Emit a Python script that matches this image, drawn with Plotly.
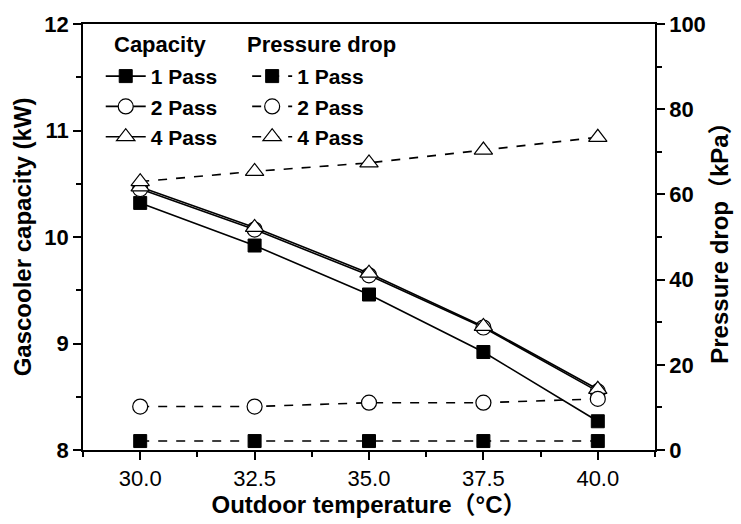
import plotly.graph_objects as go

temps = [30.0, 32.5, 35.0, 37.5, 40.0]
cap_1pass = [10.32, 9.92, 9.46, 8.92, 8.27]
cap_2pass = [10.45, 10.07, 9.64, 9.15, 8.55]
cap_4pass = [10.47, 10.09, 9.66, 9.16, 8.57]
dp_1pass = [2.1, 2.1, 2.1, 2.1, 2.1]
dp_2pass = [10.2, 10.2, 11.1, 11.1, 12.0]
dp_4pass = [63.0, 65.4, 67.4, 70.4, 73.4]
labels = ["1 Pass", "2 Pass", "4 Pass"]
legend_headers = ["Capacity", "Pressure drop"]

FONT = "Liberation Sans, Arial, Noto Sans CJK SC, sans-serif"
BLK = "black"

markers = [
    dict(symbol="square", size=13, color=BLK, line=dict(color=BLK, width=1)),
    dict(symbol="circle", size=15, color="white", line=dict(color=BLK, width=1.2)),
    dict(symbol="triangle-up", size=16, color="white", line=dict(color=BLK, width=1.2)),
]

fig = go.Figure()
for lab, ys, mk in zip(labels, [cap_1pass, cap_2pass, cap_4pass], markers):
    fig.add_trace(go.Scatter(x=temps, y=ys, mode="lines+markers", name=lab,
                             line=dict(color=BLK, width=1.6), marker=mk,
                             legend="legend", yaxis="y"))
for lab, ys, mk in zip(labels, [dp_1pass, dp_2pass, dp_4pass], markers):
    fig.add_trace(go.Scatter(x=temps, y=ys, mode="lines+markers", name=lab,
                             line=dict(color=BLK, width=1.6, dash="dash"), marker=mk,
                             legend="legend2", yaxis="y2"))

tickfont_b = dict(family=FONT, size=22, color=BLK, weight="bold")
titlefont_b = dict(family=FONT, size=24, color=BLK, weight="bold")
legfont = dict(family=FONT, size=21, color=BLK, weight="bold")

fig.update_layout(
    width=741, height=524,
    margin=dict(l=83, r=83, t=22, b=69),
    paper_bgcolor="white", plot_bgcolor="white",
    font=dict(family=FONT, color=BLK),
    xaxis=dict(range=[28.75, 41.25], tick0=30, dtick=2.5, tickformat=".1f",
               showgrid=False, zeroline=False, showline=True, linecolor=BLK, linewidth=1.5,
               mirror=True, ticks="outside", ticklen=8, tickwidth=1.5, tickcolor=BLK,
               minor=dict(dtick=1.25, tick0=28.75, ticks="outside", ticklen=5, tickwidth=1.5, tickcolor=BLK),
               tickfont=dict(family=FONT, size=22, color=BLK),
               title=dict(text="Outdoor temperature（°C）", font=titlefont_b, standoff=4)),
    yaxis=dict(range=[8, 12], dtick=1, showgrid=False, zeroline=False, showline=True,
               linecolor=BLK, linewidth=1.5, ticks="outside", ticklen=8, tickwidth=1.5, tickcolor=BLK,
               minor=dict(dtick=0.5, ticks="outside", ticklen=5, tickwidth=1.5, tickcolor=BLK),
               tickfont=tickfont_b,
               title=dict(text="Gascooler capacity (kW)", font=titlefont_b, standoff=6)),
    yaxis2=dict(range=[0, 100], dtick=20, overlaying="y", side="right", showgrid=False,
                zeroline=False, showline=True, linecolor=BLK, linewidth=1.5,
                ticks="outside", ticklen=8, tickwidth=1.5, tickcolor=BLK,
                minor=dict(dtick=10, ticks="outside", ticklen=5, tickwidth=1.5, tickcolor=BLK),
                tickfont=tickfont_b,
                title=dict(text="Pressure drop（kPa）", font=titlefont_b, standoff=6)),
    legend=dict(x=0.031, y=0.925, xanchor="left", yanchor="top", bgcolor="rgba(0,0,0,0)",
                font=legfont, tracegroupgap=0, itemwidth=40),
    legend2=dict(x=0.287, y=0.925, xanchor="left", yanchor="top", bgcolor="rgba(0,0,0,0)",
                 font=legfont, tracegroupgap=0, itemwidth=40),
    showlegend=True,
)

for txt, xpos in zip(legend_headers, [0.0504, 0.284]):
    fig.add_annotation(text=txt, xref="paper", yref="paper", x=xpos, y=0.9515,
                       xanchor="left", yanchor="middle", showarrow=False,
                       font=dict(family=FONT, size=22, color=BLK, weight="bold"))

fig.write_html("out.html")
